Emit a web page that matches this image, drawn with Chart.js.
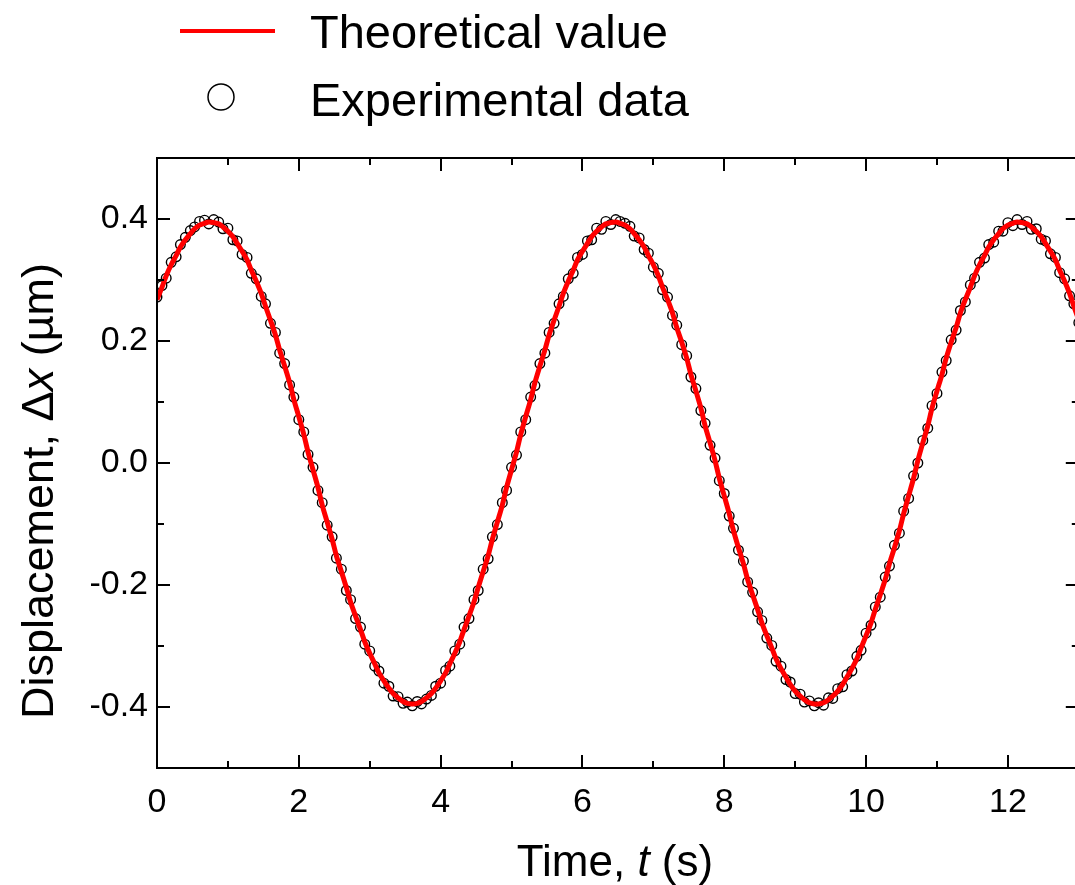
<!DOCTYPE html>
<html>
<head>
<meta charset="utf-8">
<title>Displacement vs time</title>
<script src="https://cdn.jsdelivr.net/npm/chart.js@4.4.0/dist/chart.umd.min.js"></script>
<style>
  html, body { margin: 0; padding: 0; background: #fff; overflow: hidden; }
  #wrap { width: 1085px; height: 885px; }
</style>
</head>
<body>
<div id="wrap"><canvas id="chart" width="1085" height="885"></canvas></div>
<script>
// sample times (s), about 15 samples per second
const timeS = [
  0, 0.07, 0.13, 0.2, 0.27, 0.33, 0.4, 0.47, 0.53, 0.6, 0.67, 0.73, 0.8, 0.87, 0.93,
  1, 1.07, 1.13, 1.2, 1.27, 1.33, 1.4, 1.47, 1.53, 1.6, 1.67, 1.73, 1.8, 1.87, 1.93,
  2, 2.07, 2.13, 2.2, 2.27, 2.33, 2.4, 2.47, 2.53, 2.6, 2.67, 2.73, 2.8, 2.87, 2.93,
  3, 3.07, 3.13, 3.2, 3.27, 3.33, 3.4, 3.47, 3.53, 3.6, 3.67, 3.73, 3.8, 3.87, 3.93,
  4, 4.07, 4.13, 4.2, 4.27, 4.33, 4.4, 4.47, 4.53, 4.6, 4.67, 4.73, 4.8, 4.87, 4.93,
  5, 5.07, 5.13, 5.2, 5.27, 5.33, 5.4, 5.47, 5.53, 5.6, 5.67, 5.73, 5.8, 5.87, 5.93,
  6, 6.07, 6.13, 6.2, 6.27, 6.33, 6.4, 6.47, 6.53, 6.6, 6.67, 6.73, 6.8, 6.87, 6.93,
  7, 7.07, 7.13, 7.2, 7.27, 7.33, 7.4, 7.47, 7.53, 7.6, 7.67, 7.73, 7.8, 7.87, 7.93,
  8, 8.07, 8.13, 8.2, 8.27, 8.33, 8.4, 8.47, 8.53, 8.6, 8.67, 8.73, 8.8, 8.87, 8.93,
  9, 9.07, 9.13, 9.2, 9.27, 9.33, 9.4, 9.47, 9.53, 9.6, 9.67, 9.73, 9.8, 9.87, 9.93,
  10, 10.07, 10.13, 10.2, 10.27, 10.33, 10.4, 10.47, 10.53, 10.6, 10.67, 10.73, 10.8, 10.87, 10.93,
  11, 11.07, 11.13, 11.2, 11.27, 11.33, 11.4, 11.47, 11.53, 11.6, 11.67, 11.73, 11.8, 11.87, 11.93,
  12, 12.07, 12.13, 12.2, 12.27, 12.33, 12.4, 12.47, 12.53, 12.6, 12.67, 12.73, 12.8, 12.87, 12.93,
  13
];

// theoretical displacement (um)
const theoretical = [
  0.268, 0.288, 0.307, 0.325, 0.340, 0.354, 0.366, 0.376, 0.384, 0.390, 0.393, 0.395,
  0.394, 0.392, 0.387, 0.380, 0.371, 0.360, 0.347, 0.333, 0.316, 0.298, 0.278, 0.257,
  0.234, 0.210, 0.185, 0.159, 0.132, 0.104, 0.076, 0.047, 0.018, -0.011, -0.040, -0.069,
  -0.097, -0.125, -0.152, -0.178, -0.204, -0.228, -0.251, -0.273, -0.293, -0.312, -0.329, -0.344,
  -0.357, -0.369, -0.378, -0.385, -0.391, -0.394, -0.395, -0.394, -0.391, -0.385, -0.378, -0.369,
  -0.357, -0.344, -0.329, -0.312, -0.293, -0.273, -0.251, -0.228, -0.204, -0.178, -0.152, -0.125,
  -0.097, -0.069, -0.040, -0.011, 0.018, 0.047, 0.076, 0.104, 0.132, 0.159, 0.185, 0.210,
  0.234, 0.257, 0.278, 0.298, 0.316, 0.333, 0.347, 0.360, 0.371, 0.380, 0.387, 0.392,
  0.394, 0.395, 0.393, 0.390, 0.384, 0.376, 0.366, 0.354, 0.340, 0.325, 0.307, 0.288,
  0.268, 0.246, 0.222, 0.198, 0.172, 0.145, 0.118, 0.090, 0.061, 0.033, 0.004, -0.025,
  -0.054, -0.083, -0.111, -0.139, -0.165, -0.191, -0.216, -0.240, -0.262, -0.283, -0.303, -0.321,
  -0.337, -0.351, -0.363, -0.374, -0.382, -0.388, -0.393, -0.395, -0.395, -0.393, -0.388, -0.382,
  -0.374, -0.363, -0.351, -0.337, -0.321, -0.303, -0.283, -0.262, -0.240, -0.216, -0.191, -0.165,
  -0.139, -0.111, -0.083, -0.054, -0.025, 0.004, 0.033, 0.061, 0.090, 0.118, 0.145, 0.172,
  0.198, 0.222, 0.246, 0.268, 0.288, 0.307, 0.325, 0.340, 0.354, 0.366, 0.376, 0.384,
  0.390, 0.393, 0.395, 0.394, 0.392, 0.387, 0.380, 0.371, 0.360, 0.347, 0.333, 0.316,
  0.298, 0.278, 0.257, 0.234
];

// measured displacement (um)
const experimental = [
  0.272, 0.291, 0.303, 0.329, 0.338, 0.358, 0.370, 0.381, 0.387, 0.396, 0.398, 0.392,
  0.399, 0.395, 0.384, 0.385, 0.366, 0.364, 0.342, 0.337, 0.311, 0.302, 0.273, 0.261,
  0.229, 0.214, 0.180, 0.163, 0.128, 0.108, 0.071, 0.051, 0.014, -0.007, -0.045, -0.065,
  -0.102, -0.121, -0.156, -0.174, -0.209, -0.224, -0.255, -0.269, -0.297, -0.308, -0.333, -0.341,
  -0.361, -0.366, -0.382, -0.383, -0.394, -0.392, -0.398, -0.391, -0.395, -0.387, -0.381, -0.366,
  -0.361, -0.340, -0.333, -0.308, -0.297, -0.269, -0.255, -0.224, -0.209, -0.174, -0.157, -0.121,
  -0.101, -0.065, -0.045, -0.007, 0.013, 0.051, 0.071, 0.108, 0.127, 0.163, 0.180, 0.214,
  0.229, 0.261, 0.273, 0.302, 0.311, 0.337, 0.342, 0.364, 0.366, 0.385, 0.383, 0.396,
  0.391, 0.399, 0.396, 0.393, 0.388, 0.372, 0.369, 0.350, 0.344, 0.321, 0.311, 0.284,
  0.272, 0.242, 0.226, 0.194, 0.176, 0.141, 0.122, 0.086, 0.065, 0.029, 0.008, -0.029,
  -0.050, -0.087, -0.107, -0.143, -0.161, -0.195, -0.212, -0.244, -0.258, -0.287, -0.299, -0.325,
  -0.333, -0.355, -0.359, -0.378, -0.379, -0.392, -0.390, -0.398, -0.393, -0.397, -0.385, -0.386,
  -0.370, -0.367, -0.347, -0.341, -0.317, -0.307, -0.279, -0.266, -0.236, -0.220, -0.187, -0.169,
  -0.135, -0.115, -0.079, -0.058, -0.021, 0.000, 0.037, 0.057, 0.094, 0.114, 0.149, 0.168,
  0.202, 0.218, 0.250, 0.264, 0.292, 0.303, 0.329, 0.336, 0.358, 0.362, 0.380, 0.380,
  0.394, 0.389, 0.399, 0.391, 0.396, 0.383, 0.384, 0.367, 0.364, 0.343, 0.337, 0.312,
  0.302, 0.274, 0.261, 0.230
];

// axis ticks
const xMajorTicks = [0, 2, 4, 6, 8, 10, 12];
const xMinorTicks = [1, 3, 5, 7, 9, 11, 13];
const yMajorTicks = [-0.4, -0.2, 0, 0.2, 0.4];
const yMinorTicks = [-0.3, -0.1, 0.1, 0.3];

const FONT = '"Liberation Sans", Arial, Helvetica, sans-serif';

// 枠と内向きの目盛り、軸タイトル、凡例を描く
const framePlugin = {
  id: 'frame',
  afterDatasetsDraw(chart) {
    const { ctx, chartArea: a, scales: { x, y } } = chart;
    ctx.save();
    ctx.strokeStyle = '#000';
    ctx.lineWidth = 2;
    ctx.strokeRect(a.left, a.top, a.right - a.left, a.bottom - a.top);

    ctx.beginPath();
    const xTick = (v, len) => {
      const px = Math.round(x.getPixelForValue(v));
      ctx.moveTo(px, a.bottom); ctx.lineTo(px, a.bottom - len);
      ctx.moveTo(px, a.top); ctx.lineTo(px, a.top + len);
    };
    const yTick = (v, len) => {
      const py = Math.round(y.getPixelForValue(v));
      ctx.moveTo(a.left, py); ctx.lineTo(a.left + len, py);
      ctx.moveTo(a.right, py); ctx.lineTo(a.right - len, py);
    };
    xMajorTicks.forEach(v => xTick(v, 13));
    xMinorTicks.forEach(v => xTick(v, 7));
    yMajorTicks.forEach(v => yTick(v, 13));
    yMinorTicks.forEach(v => yTick(v, 7));
    ctx.stroke();
    ctx.restore();
  },
  afterDraw(chart) {
    const { ctx } = chart;
    const ds = chart.data.datasets;
    ctx.save();
    ctx.fillStyle = '#000';
    ctx.textBaseline = 'alphabetic';

    // 混在フォントのテキストを描く
    const drawParts = (parts, cx, cy) => {
      let total = 0;
      parts.forEach(p => { ctx.font = p.font; total += ctx.measureText(p.text).width; });
      let cur = cx - total / 2;
      ctx.textAlign = 'left';
      parts.forEach(p => {
        ctx.font = p.font;
        ctx.fillText(p.text, cur, cy);
        cur += ctx.measureText(p.text).width;
      });
    };

    // x軸タイトル
    drawParts([
      { text: 'Time, ', font: `44px ${FONT}` },
      { text: 't', font: `italic 44px ${FONT}` },
      { text: ' (s)', font: `44px ${FONT}` }
    ], 615, 876);

    // y軸タイトル
    ctx.save();
    ctx.translate(53, 491);
    ctx.rotate(-Math.PI / 2);
    drawParts([
      { text: 'Displacement, ', font: `45px ${FONT}` },
      { text: 'Δ', font: `45px ${FONT}` },
      { text: 'x', font: `italic 45px ${FONT}` },
      { text: ' (µm)', font: `45px ${FONT}` }
    ], 0, 0);
    ctx.restore();

    // 凡例
    ctx.textAlign = 'left';
    ctx.font = `47px ${FONT}`;
    ctx.strokeStyle = ds[0].borderColor;
    ctx.lineWidth = 4;
    ctx.beginPath();
    ctx.moveTo(180, 31); ctx.lineTo(275, 31);
    ctx.stroke();
    ctx.fillText(ds[0].label, 310, 48);

    ctx.strokeStyle = ds[1].pointBorderColor;
    ctx.lineWidth = 1.5;
    ctx.beginPath();
    ctx.arc(221, 97, 13, 0, Math.PI * 2);
    ctx.stroke();
    ctx.fillText(ds[1].label, 310, 116);
    ctx.restore();
  }
};

const ctx = document.getElementById('chart').getContext('2d');
new Chart(ctx, {
  type: 'line',
  data: {
    datasets: [
      {
        label: 'Theoretical value',
        data: timeS.map((t, i) => ({ x: t, y: theoretical[i] })),
        borderColor: '#ff0000',
        borderWidth: 5,
        pointRadius: 0,
        tension: 0.3,
        fill: false
      },
      {
        label: 'Experimental data',
        data: timeS.map((t, i) => ({ x: t, y: experimental[i] })),
        showLine: false,
        pointRadius: 4.8,
        pointBorderWidth: 1.4,
        pointBorderColor: '#000',
        pointBackgroundColor: 'rgba(255,255,255,0)'
      }
    ]
  },
  options: {
    responsive: false,
    animation: false,
    layout: { padding: { top: 158, right: 3, left: 0, bottom: 0 } },
    plugins: {
      legend: { display: false },
      tooltip: { enabled: false }
    },
    scales: {
      x: {
        type: 'linear',
        min: 0,
        max: 13,
        grid: { display: false, drawTicks: false },
        border: { display: false },
        afterBuildTicks: s => { s.ticks = xMajorTicks.map(v => ({ value: v })); },
        afterFit: s => { s.height = 117; },
        ticks: {
          padding: 14,
          color: '#000',
          font: { family: FONT, size: 34 },
          callback: v => String(v)
        }
      },
      y: {
        type: 'linear',
        min: -0.5,
        max: 0.5,
        grid: { display: false, drawTicks: false },
        border: { display: false },
        afterBuildTicks: s => { s.ticks = yMajorTicks.map(v => ({ value: v })); },
        afterFit: s => { s.width = 157; },
        ticks: {
          padding: 9,
          color: '#000',
          font: { family: FONT, size: 34 },
          callback: v => v.toFixed(1)
        }
      }
    }
  },
  plugins: [framePlugin]
});
</script>
</body>
</html>
